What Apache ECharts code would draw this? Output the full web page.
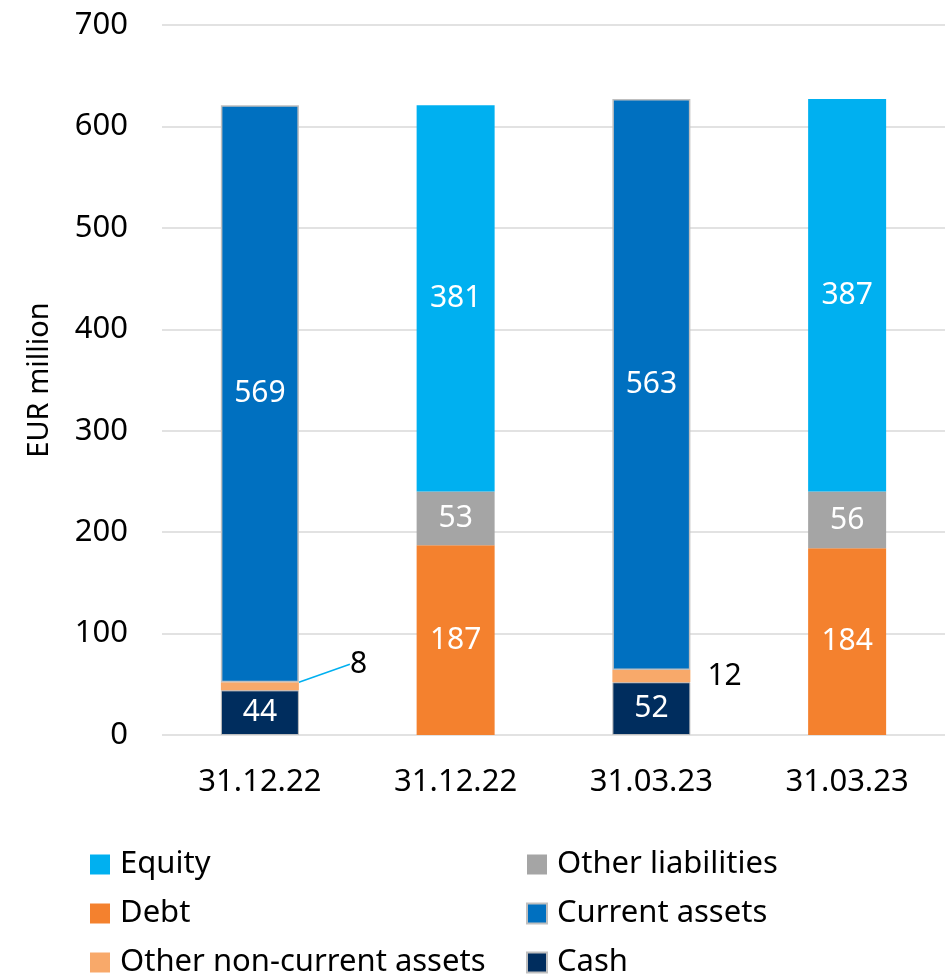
<!DOCTYPE html>
<html>
<head>
<meta charset="utf-8">
<script src="https://cdn.jsdelivr.net/npm/echarts@6/dist/echarts.min.js"></script>
<style>
  html, body { margin: 0; padding: 0; background: #fff; }
  #main { width: 945px; height: 976px; }
</style>
</head>
<body>
<div id="main"></div>
<script>
// categories (assets bar / liabilities bar per date)
var categories = ["31.12.22", "31.12.22", "31.03.23", "31.03.23"];
var yTicks = [0, 100, 200, 300, 400, 500, 600, 700];

// values, EUR million
var cash = [44, null, 52, null];
var otherNonCurrent = [8, null, 12, null];
var currentAssets = [569, null, 563, null];
var debt = [null, 187, null, 184];
var otherLiabilities = [null, 53, null, 56];
var equity = [null, 381, null, 387];

var FONT = "Noto Sans";

var myChart = echarts.init(document.getElementById("main"));

var insideLabel = {
  show: true,
  position: "inside",
  color: "#fff",
  fontFamily: FONT,
  fontSize: 30
};

var legendText = { fontSize: 31, color: "#000", lineHeight: 31, padding: [0, 0, 0, 5] };

var option = {
  animation: false,
  textStyle: { fontFamily: FONT },
  grid: { left: 162, right: 0, top: 25, bottom: 241 },
  legend: [
    {
      orient: "vertical",
      left: 90,
      top: 849,
      height: 200,
      padding: 0,
      icon: "rect",
      itemWidth: 20,
      itemHeight: 20,
      itemGap: 18,
      textStyle: legendText,
      data: ["Equity", "Debt", "Other non-current assets"]
    },
    {
      orient: "vertical",
      left: 526,
      top: 849,
      height: 200,
      padding: 0,
      icon: "rect",
      itemWidth: 20,
      itemHeight: 20,
      itemGap: 18,
      textStyle: legendText,
      data: ["Other liabilities", "Current assets", "Cash"]
    }
  ],
  xAxis: {
    type: "category",
    data: categories,
    axisLine: { show: false },
    axisTick: { show: false },
    axisLabel: { color: "#000", fontSize: 31, margin: 32, fontFamily: FONT }
  },
  yAxis: {
    type: "value",
    min: 0,
    max: 700,
    interval: 100,
    name: "EUR million",
    nameLocation: "middle",
    nameGap: 108,
    nameTextStyle: { color: "#000", fontSize: 29, fontFamily: FONT },
    axisLabel: {
      color: "#000",
      fontSize: 31,
      margin: 34,
      fontFamily: FONT,
      formatter: function (v) {
        return yTicks.indexOf(v) >= 0 ? String(v) : "";
      }
    },
    splitLine: { lineStyle: { color: "#d9d9d9", width: 1.5 } }
  },
  series: [
    {
      name: "Cash",
      type: "bar",
      stack: "a",
      barWidth: 78,
      itemStyle: { color: "#002d5e", borderColor: "#bfbfbf", borderWidth: 1 },
      label: insideLabel,
      data: cash
    },
    {
      name: "Other non-current assets",
      type: "bar",
      stack: "a",
      itemStyle: { color: "#f8a96a" },
      label: {
        show: true,
        position: "right",
        distance: 17,
        color: "#000",
        fontFamily: FONT,
        fontSize: 30
      },
      labelLine: { show: false },
      labelLayout: function (p) {
        if (p.dataIndex === 0) {
          return { dx: 34, dy: -22 };
        }
        return {};
      },
      data: [
        { value: otherNonCurrent[0], labelLine: { show: true, lineStyle: { color: "#00b0f0", width: 1.5 } } },
        otherNonCurrent[1],
        otherNonCurrent[2],
        otherNonCurrent[3]
      ]
    },
    {
      name: "Current assets",
      type: "bar",
      stack: "a",
      itemStyle: { color: "#0070c0", borderColor: "#bfbfbf", borderWidth: 1.5 },
      label: insideLabel,
      data: currentAssets
    },
    {
      name: "Debt",
      type: "bar",
      stack: "a",
      itemStyle: { color: "#f4812e" },
      label: insideLabel,
      data: debt
    },
    {
      name: "Other liabilities",
      type: "bar",
      stack: "a",
      itemStyle: { color: "#a5a5a5" },
      label: insideLabel,
      data: otherLiabilities
    },
    {
      name: "Equity",
      type: "bar",
      stack: "a",
      itemStyle: { color: "#00b0f0" },
      label: insideLabel,
      data: equity
    }
  ]
};

myChart.setOption(option);
</script>
</body>
</html>
